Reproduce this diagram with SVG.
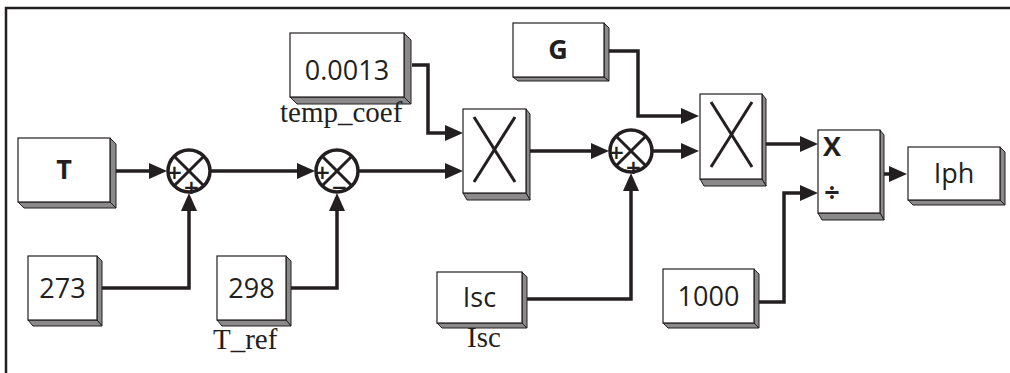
<svg xmlns="http://www.w3.org/2000/svg" width="1010" height="373" viewBox="0 0 1010 373">
<style>
.front{fill:#ffffff;stroke:#231f20;stroke-width:1.2}
.side{fill:#8a8a8a;stroke:#231f20;stroke-width:1}
.lbl{font-family:"Open Sans","Liberation Sans",sans-serif;font-size:27px;fill:#231f20;text-anchor:middle}
.bold{font-weight:bold}
.ser{font-family:"Liberation Serif","Times New Roman",serif;font-size:29px;fill:#231f20}
.wire{fill:none;stroke:#231f20;stroke-width:3.5;marker-end:url(#arr)}
.sum{fill:#ffffff;stroke:#231f20;stroke-width:3.5}
.xl{stroke:#231f20;stroke-width:3}
.sign{font-family:"DejaVu Sans",sans-serif;font-weight:bold;font-size:20px;fill:#231f20;text-anchor:middle}
</style>
<defs>
<marker id="arr" markerUnits="userSpaceOnUse" markerWidth="18" markerHeight="16" refX="8" refY="8" orient="auto">
<path d="M0,0 L18,8 L0,16 z" fill="#231f20"/>
</marker>
</defs>
<rect width="1010" height="373" fill="#ffffff"/>
<path d="M6,373 L6,8 L1010,8" fill="none" stroke="#231f20" stroke-width="2.5"/>

<g id="connectors">
<path class="wire" d="M116,171 L157,171"/>
<path class="wire" d="M101,288 L189,288 L189,203"/>
<path class="wire" d="M211,171 L305,171"/>
<path class="wire" d="M290,288 L337,288 L337,203"/>
<path class="wire" d="M359,171 L453,171"/>
<path class="wire" d="M412,65 L428,65 L428,133 L453,133"/>
<path class="wire" d="M529,151 L599,151"/>
<path class="wire" d="M527,299 L631,299 L631,183"/>
<path class="wire" d="M653,151 L689,151"/>
<path class="wire" d="M609,51 L638,51 L638,116 L689,116"/>
<path class="wire" d="M766,144 L808,144"/>
<path class="wire" d="M759,302 L784,302 L784,193 L808,193"/>
<path class="wire" d="M884,174 L897,174"/>
</g>

<g id="T">
<polygon class="side" points="110,138 116,144 116,208 110,202"/>
<polygon class="side" points="18,202 110,202 116,208 24,208"/>
<rect class="front" x="18" y="138" width="92" height="64"/>
<text class="lbl bold" x="64" y="179">T</text>
</g>

<g id="c273">
<polygon class="side" points="97,256 102,261 102,326 97,320"/>
<polygon class="side" points="28,320 97,320 102,326 33,326"/>
<rect class="front" x="28" y="256" width="69" height="64"/>
<text class="lbl" x="62.5" y="298">273</text>
</g>

<g id="c298">
<polygon class="side" points="286,256 291,261 291,326 286,320"/>
<polygon class="side" points="217,320 286,320 291,326 222,326"/>
<rect class="front" x="217" y="256" width="69" height="64"/>
<text class="lbl" x="251.5" y="298">298</text>
<text class="ser" x="213" y="349">T_ref</text>
</g>

<g id="temp_coef">
<polygon class="side" points="404,33 411,40 411,104 404,97"/>
<polygon class="side" points="290,97 404,97 411,104 297,104"/>
<rect class="front" x="290" y="33" width="114" height="64"/>
<text class="lbl" x="347" y="80">0.0013</text>
<text class="ser" x="280" y="122">temp_coef</text>
</g>

<g id="sum1">
<circle class="sum" cx="189" cy="171" r="21"/>
<line class="xl" x1="174.2" y1="156.2" x2="203.8" y2="185.8"/>
<line class="xl" x1="203.8" y1="156.2" x2="174.2" y2="185.8"/>
<text class="sign" x="174.5" y="178.5">+</text>
<text class="sign" x="191.5" y="193.5">+</text>
</g>

<g id="sum2">
<circle class="sum" cx="337" cy="171" r="21"/>
<line class="xl" x1="322.2" y1="156.2" x2="351.8" y2="185.8"/>
<line class="xl" x1="351.8" y1="156.2" x2="322.2" y2="185.8"/>
<text class="sign" x="322.5" y="178.5">+</text>
<text class="sign" x="339.5" y="193.5">−</text>
</g>

<g id="mult1">
<polygon class="side" points="526,109 530,114 530,200 526,193"/>
<polygon class="side" points="463,193 526,193 530,200 467,200"/>
<rect class="front" x="463" y="109" width="63" height="84"/>
<line class="xl" x1="474" y1="117" x2="515" y2="182"/>
<line class="xl" x1="515" y1="117" x2="474" y2="182"/>
</g>

<g id="Isc">
<polygon class="side" points="522,272 527,277 527,328 522,323"/>
<polygon class="side" points="437,323 522,323 527,328 442,328"/>
<rect class="front" x="437" y="272" width="85" height="51"/>
<text class="lbl" x="479.5" y="307">Isc</text>
<text class="ser" x="467" y="347">Isc</text>
</g>

<g id="sum3">
<circle class="sum" cx="631" cy="151" r="21"/>
<line class="xl" x1="616.2" y1="136.2" x2="645.8" y2="165.8"/>
<line class="xl" x1="645.8" y1="136.2" x2="616.2" y2="165.8"/>
<text class="sign" x="616.5" y="158.5">+</text>
<text class="sign" x="633.5" y="173.5">+</text>
</g>

<g id="G">
<polygon class="side" points="604,23 609,28 609,81 604,77"/>
<polygon class="side" points="513,77 604,77 609,81 518,81"/>
<rect class="front" x="513" y="23" width="91" height="54"/>
<text class="lbl bold" x="558" y="59">G</text>
</g>

<g id="mult2">
<polygon class="side" points="762,94 766,99 766,186 762,179"/>
<polygon class="side" points="700,179 762,179 766,186 704,186"/>
<rect class="front" x="700" y="94" width="62" height="85"/>
<line class="xl" x1="711" y1="102" x2="752" y2="167"/>
<line class="xl" x1="752" y1="102" x2="711" y2="167"/>
</g>

<g id="divide">
<polygon class="side" points="880,130 884,135 884,220 880,213"/>
<polygon class="side" points="818,213 880,213 884,220 822,220"/>
<rect class="front" x="818" y="130" width="62" height="83"/>
<text class="lbl bold" x="832" y="156" font-size="22">X</text>
<text class="lbl bold" x="832" y="202" font-size="30">÷</text>
</g>

<g id="c1000">
<polygon class="side" points="754,269 759,274 759,328 754,323"/>
<polygon class="side" points="663,323 754,323 759,328 668,328"/>
<rect class="front" x="663" y="269" width="91" height="54"/>
<text class="lbl" x="708.5" y="306">1000</text>
</g>

<g id="Iph">
<polygon class="side" points="1000,147 1005,152 1005,205 1000,200"/>
<polygon class="side" points="908,200 1000,200 1005,205 913,205"/>
<rect class="front" x="908" y="147" width="92" height="53"/>
<text class="lbl" x="954" y="183">Iph</text>
</g>
</svg>
